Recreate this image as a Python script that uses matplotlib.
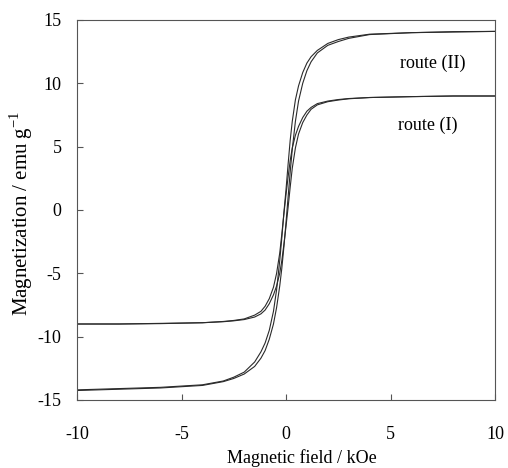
import matplotlib
import matplotlib.pyplot as plt

matplotlib.use('Agg')

plt.rcParams['font.family'] = ['Liberation Serif', 'DejaVu Serif']
plt.rcParams['mathtext.fontset'] = 'custom'
plt.rcParams['mathtext.rm'] = 'Liberation Serif'

# Magnetic field (kOe), shared by all branches
field = [-10, -8, -6, -4, -3, -2.5, -2, -1.5, -1.2, -1.0, -0.8, -0.6, -0.45, -0.3, -0.2, -0.1, 0,
         0.1, 0.2, 0.3, 0.45, 0.6, 0.8, 1.0, 1.2, 1.5, 2, 2.5, 3, 4, 6, 8, 10]

# route (II): upper (descending) and lower (ascending) branches, emu/g
route2_down = [-14.2, -14.1, -14.0, -13.8, -13.5, -13.2, -12.8, -12.0, -11.2, -10.5, -9.5, -8.0, -6.3,
               -4.0, -2.2, -0.2, 1.6, 3.6, 5.5, 7.0, 8.7, 9.8, 10.85, 11.6, 12.1, 12.6, 13.15, 13.45,
               13.65, 13.88, 14.0, 14.08, 14.1]
route2_up = [-14.25, -14.15, -14.05, -13.85, -13.55, -13.3, -12.95, -12.35, -11.7, -11.1, -10.2, -9.0,
             -7.7, -6.0, -4.6, -2.9, -1.0, 1.0, 3.0, 4.8, 7.0, 8.6, 10.0, 11.0, 11.7, 12.4, 13.0, 13.3,
             13.55, 13.85, 14.0, 14.05, 14.1]

# route (I)
route1_down = [-9.0, -9.0, -8.95, -8.9, -8.8, -8.72, -8.6, -8.3, -8.0, -7.6, -7.0, -6.1, -5.0, -3.4,
               -1.9, -0.3, 1.2, 2.6, 3.9, 4.9, 5.9, 6.6, 7.3, 7.8, 8.1, 8.4, 8.6, 8.72, 8.8, 8.88, 8.95,
               9.0, 9.0]
route1_up = [-9.0, -9.0, -8.97, -8.9, -8.82, -8.75, -8.65, -8.45, -8.2, -7.9, -7.4, -6.7, -6.0, -5.0,
             -4.0, -2.7, -1.3, 0.2, 1.8, 3.3, 4.9, 6.0, 6.9, 7.5, 7.95, 8.3, 8.55, 8.68, 8.78, 8.88,
             8.95, 9.0, 9.0]

x_ticks = [-10, -5, 0, 5, 10]
y_ticks = [-15, -10, -5, 0, 5, 10, 15]

fig = plt.figure(figsize=(5.08, 4.68), dpi=100)
ax = fig.add_axes([77 / 508, 68 / 468, 418 / 508, 380 / 468])

line_kw = dict(color='#2a2a2a', linewidth=0.8)
for branch in (route2_down, route2_up, route1_down, route1_up):
    ax.plot(field, branch, **line_kw)

ax.set_xlim(-10, 10)
ax.set_ylim(-15, 15)
ax.set_xticks(x_ticks)
ax.set_yticks(y_ticks)
ax.set_xticklabels([str(t) for t in x_ticks])
ax.set_yticklabels([str(t) for t in y_ticks])
ax.tick_params(direction='in', length=4, width=0.8, color='#555555', labelsize=13)
ax.tick_params(axis='x', pad=19)
ax.tick_params(axis='y', pad=11)

for spine in ax.spines.values():
    spine.set_color('#555555')
    spine.set_linewidth(0.8)

ax.text(7.0, 11.6, 'route (II)', fontsize=13, ha='center', va='center')
ax.text(6.8, 6.7, 'route (I)', fontsize=13, ha='center', va='center')

ax.set_xlabel('Magnetic field / kOe', fontsize=13)
ax.xaxis.set_label_coords(0.538, -0.13)
ax.set_ylabel('Magnetization / emu g$^{\\mathregular{-1}}$', fontsize=15)
ax.yaxis.set_label_coords(-0.1, 0.49)

fig.savefig('out.png', dpi=100)
